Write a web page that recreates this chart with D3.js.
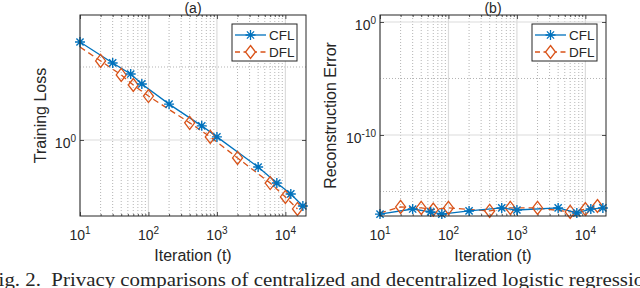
<!DOCTYPE html>
<html><head><meta charset="utf-8">
<script src="https://cdn.jsdelivr.net/npm/d3@7"></script>
<style>
html,body{margin:0;padding:0;background:#fff;}
svg{display:block;}
text{font-family:"Liberation Sans",Arial,sans-serif;fill:#262626;}
</style></head><body>
<svg id="c" width="640" height="288"></svg>
<script>
// ---- data ----
const iterCFL = [10, 30, 55, 80, 200, 600, 1000, 4000, 7500, 12000, 18000];
const iterDFL = [10, 20, 40, 60, 100, 400, 800, 2000, 6000, 10000, 15000];
const lossCFL = [4.69, 3.37, 2.83, 2.42, 1.76, 1.25, 1.05, 0.653, 0.507, 0.427, 0.353];
const lossDFL = [4.33, 3.48, 2.79, 2.38, 2.0, 1.31, 1.05, 0.753, 0.507, 0.407, 0.337];
const errCFL = [1.0e-17, 2.8e-17, 1.55e-17, 1.0e-17, 1.9e-17, 3.5e-17, 2.3e-17, 3.5e-17, 1.26e-17, 2.8e-17, 3.5e-17];
const errDFL = [1.26e-17, 4.3e-17, 3.5e-17, 2.5e-17, 3.5e-17, 1.9e-17, 3.5e-17, 3.5e-17, 1.55e-17, 2.8e-17, 5.2e-17];
const xTickExp = [1, 2, 3, 4];
const lossTickExp = [0];
const errTickExp = [0, -10];
const seriesNames = ["CFL", "DFL"];
const panelTitles = ["(a)", "(b)"];
const yLabels = ["Training Loss", "Reconstruction Error"];
const xLabel = "Iteration (t)";
const caption = "Fig. 2.\u00A0 Privacy comparisons of centralized and decentralized logistic regression.";

const C_CFL = "#0072BD", C_DFL = "#D95319", AX = "#262626";
const svg = d3.select("#c");

function panel(o) {
  const g = svg.append("g");
  const x = d3.scaleLog().domain([10, 2e4]).range([o.x0, o.x1]);
  const y = d3.scaleLog().domain(o.yDomain).range([o.y1, o.y0]);
  // minor x grid
  const minor = [];
  for (let e = 1; e <= 4; e++) for (let m = 2; m <= 9; m++) { const v = m * Math.pow(10, e); if (v < 2e4) minor.push(v); }
  g.selectAll(".mgx").data(minor).join("line")
    .attr("x1", d => x(d)).attr("x2", d => x(d)).attr("y1", o.y0).attr("y2", o.y1)
    .attr("stroke", "#b4b4b4").attr("stroke-width", 1).attr("stroke-dasharray", "1,2");
  g.selectAll(".mgy").data(o.yMinor).join("line")
    .attr("x1", o.x0).attr("x2", o.x1).attr("y1", d => y(d)).attr("y2", d => y(d))
    .attr("stroke", "#b4b4b4").attr("stroke-width", 1).attr("stroke-dasharray", "1,2");
  // major grid
  g.selectAll(".gx").data(xTickExp.map(e => Math.pow(10, e))).join("line")
    .attr("x1", d => x(d)).attr("x2", d => x(d)).attr("y1", o.y0).attr("y2", o.y1)
    .attr("stroke", "#dcdcdc").attr("stroke-width", 1.2);
  g.selectAll(".gy").data(o.yTickExp.map(e => Math.pow(10, e))).join("line")
    .attr("x1", o.x0).attr("x2", o.x1).attr("y1", d => y(d)).attr("y2", d => y(d))
    .attr("stroke", "#dcdcdc").attr("stroke-width", 1.2);

  // axes via d3
  const tickMaj = xTickExp.map(e => Math.pow(10, e));
  const axB = d3.axisBottom(x).tickValues(tickMaj).tickSize(-4).tickFormat("");
  const axT = d3.axisTop(x).tickValues(tickMaj).tickSize(-4).tickFormat("");
  const axBm = d3.axisBottom(x).tickValues(minor).tickSize(-2).tickFormat("");
  const axTm = d3.axisTop(x).tickValues(minor).tickSize(-2).tickFormat("");
  const yt = o.yTickExp.map(e => Math.pow(10, e));
  const axL = d3.axisLeft(y).tickValues(yt).tickSize(-4).tickFormat("");
  const axR = d3.axisRight(y).tickValues(yt).tickSize(-4).tickFormat("");
  [[axB, `translate(0,${o.y1})`], [axBm, `translate(0,${o.y1})`], [axT, `translate(0,${o.y0})`], [axTm, `translate(0,${o.y0})`],
   [axL, `translate(${o.x0},0)`], [axR, `translate(${o.x1},0)`]].forEach(([a, t]) => {
    const ag = g.append("g").attr("transform", t).call(a);
    ag.select(".domain").remove();
    ag.selectAll("line").attr("stroke", AX).attr("stroke-width", 0.8);
  });

  // series
  const line = d3.line().x(d => x(d[0])).y(d => y(d[1]));
  const cfl = o.iterC.map((t, i) => [t, o.valC[i]]);
  const dfl = o.iterD.map((t, i) => [t, o.valD[i]]);
  g.append("path").datum(dfl).attr("d", line).attr("fill", "none").attr("stroke", C_DFL)
    .attr("stroke-width", 1.3).attr("stroke-dasharray", "6,4");
  g.append("path").datum(cfl).attr("d", line).attr("fill", "none").attr("stroke", C_CFL).attr("stroke-width", 1.3);
  g.selectAll(".dm").data(dfl.slice(1)).join("path")
    .attr("d", d => diamond(x(d[0]), y(d[1])))
    .attr("fill", "none").attr("stroke", C_DFL).attr("stroke-width", 1.3);
  g.selectAll(".am").data(cfl).join("path")
    .attr("d", d => aster(x(d[0]), y(d[1])))
    .attr("fill", "none").attr("stroke", C_CFL).attr("stroke-width", 1.4);

  // box
  g.append("rect").attr("x", o.x0).attr("y", o.y0).attr("width", o.x1 - o.x0).attr("height", o.y1 - o.y0)
    .attr("fill", "none").attr("stroke", AX).attr("stroke-width", 1);

  // tick labels
  xTickExp.forEach(e => {
    const t = g.append("text").attr("x", x(Math.pow(10, e))).attr("y", o.y1 + 24)
      .attr("text-anchor", "middle").attr("font-size", 14);
    t.append("tspan").text("10");
    t.append("tspan").attr("font-size", 10).attr("dy", -6).text(String(e));
  });
  o.yTickExp.forEach(e => {
    const t = g.append("text").attr("x", o.x0 - 4).attr("y", y(Math.pow(10, e)) + 8)
      .attr("text-anchor", "end").attr("font-size", 14);
    t.append("tspan").text("10");
    t.append("tspan").attr("font-size", 10).attr("dy", -6).text(String(e));
  });
  // labels
  const cx = (o.x0 + o.x1) / 2;
  g.append("text").attr("x", cx).attr("y", 12.5).attr("text-anchor", "middle").attr("font-size", 14).text(o.title);
  g.append("text").attr("x", cx).attr("y", 261).attr("text-anchor", "middle").attr("font-size", 16).text(xLabel);
  g.append("text").attr("transform", `translate(${o.ylx},${(o.y0 + o.y1) / 2}) rotate(-90)`)
    .attr("text-anchor", "middle").attr("font-size", 16).text(o.ylabel);

  // legend
  const lx = o.x1 - 74, ly = 24;
  g.append("rect").attr("x", lx).attr("y", ly).attr("width", 65).attr("height", 37)
    .attr("fill", "#fff").attr("stroke", AX).attr("stroke-width", 1);
  const rows = [[C_CFL, null, aster], [C_DFL, "6,4", diamond]];
  rows.forEach((r, i) => {
    const yy = ly + 11 + i * 17;
    g.append("line").attr("x1", lx + 3).attr("x2", lx + 34).attr("y1", yy).attr("y2", yy)
      .attr("stroke", r[0]).attr("stroke-width", 1.3).attr("stroke-dasharray", r[1] ? "5,3.5" : null);
    g.append("path").attr("d", r[2](lx + 18.5, yy)).attr("fill", i ? "#fff" : "none").attr("stroke", r[0]).attr("stroke-width", 1.3);
    g.append("text").attr("x", lx + 37).attr("y", yy + 5).attr("font-size", 13.5).text(seriesNames[i]);
  });
}

function aster(cx, cy) {
  const r = 5, d = r * 0.72;
  return `M${cx - r},${cy}H${cx + r}M${cx},${cy - r}V${cy + r}M${cx - d},${cy - d}L${cx + d},${cy + d}M${cx - d},${cy + d}L${cx + d},${cy - d}`;
}
function diamond(cx, cy) {
  const w = 5, h = 6.5;
  return `M${cx},${cy - h}L${cx + w},${cy}L${cx},${cy + h}L${cx - w},${cy}Z`;
}

panel({ x0: 80, x1: 306, y0: 15, y1: 216, yDomain: [0.3015, 7.18], yTickExp: lossTickExp, yMinor: [Math.pow(10, 0.5)],
  iterC: iterCFL, valC: lossCFL, iterD: iterDFL, valD: lossDFL, title: panelTitles[0], ylabel: yLabels[0], ylx: 46 });
panel({ x0: 380, x1: 606, y0: 15, y1: 216, yDomain: [Math.pow(10, -17.17), Math.pow(10, 0.62)], yTickExp: errTickExp, yMinor: [1e-5, 1e-15],
  iterC: iterCFL, valC: errCFL, iterD: iterDFL, valD: errDFL, title: panelTitles[1], ylabel: yLabels[1], ylx: 336 });

// caption
svg.append("text").attr("transform", "translate(-13,286) scale(1.16,1)").attr("font-size", 18)
  .style("font-family", "'Liberation Serif','Times New Roman',serif").attr("fill", "#111").text(caption);
</script>
</body></html>
